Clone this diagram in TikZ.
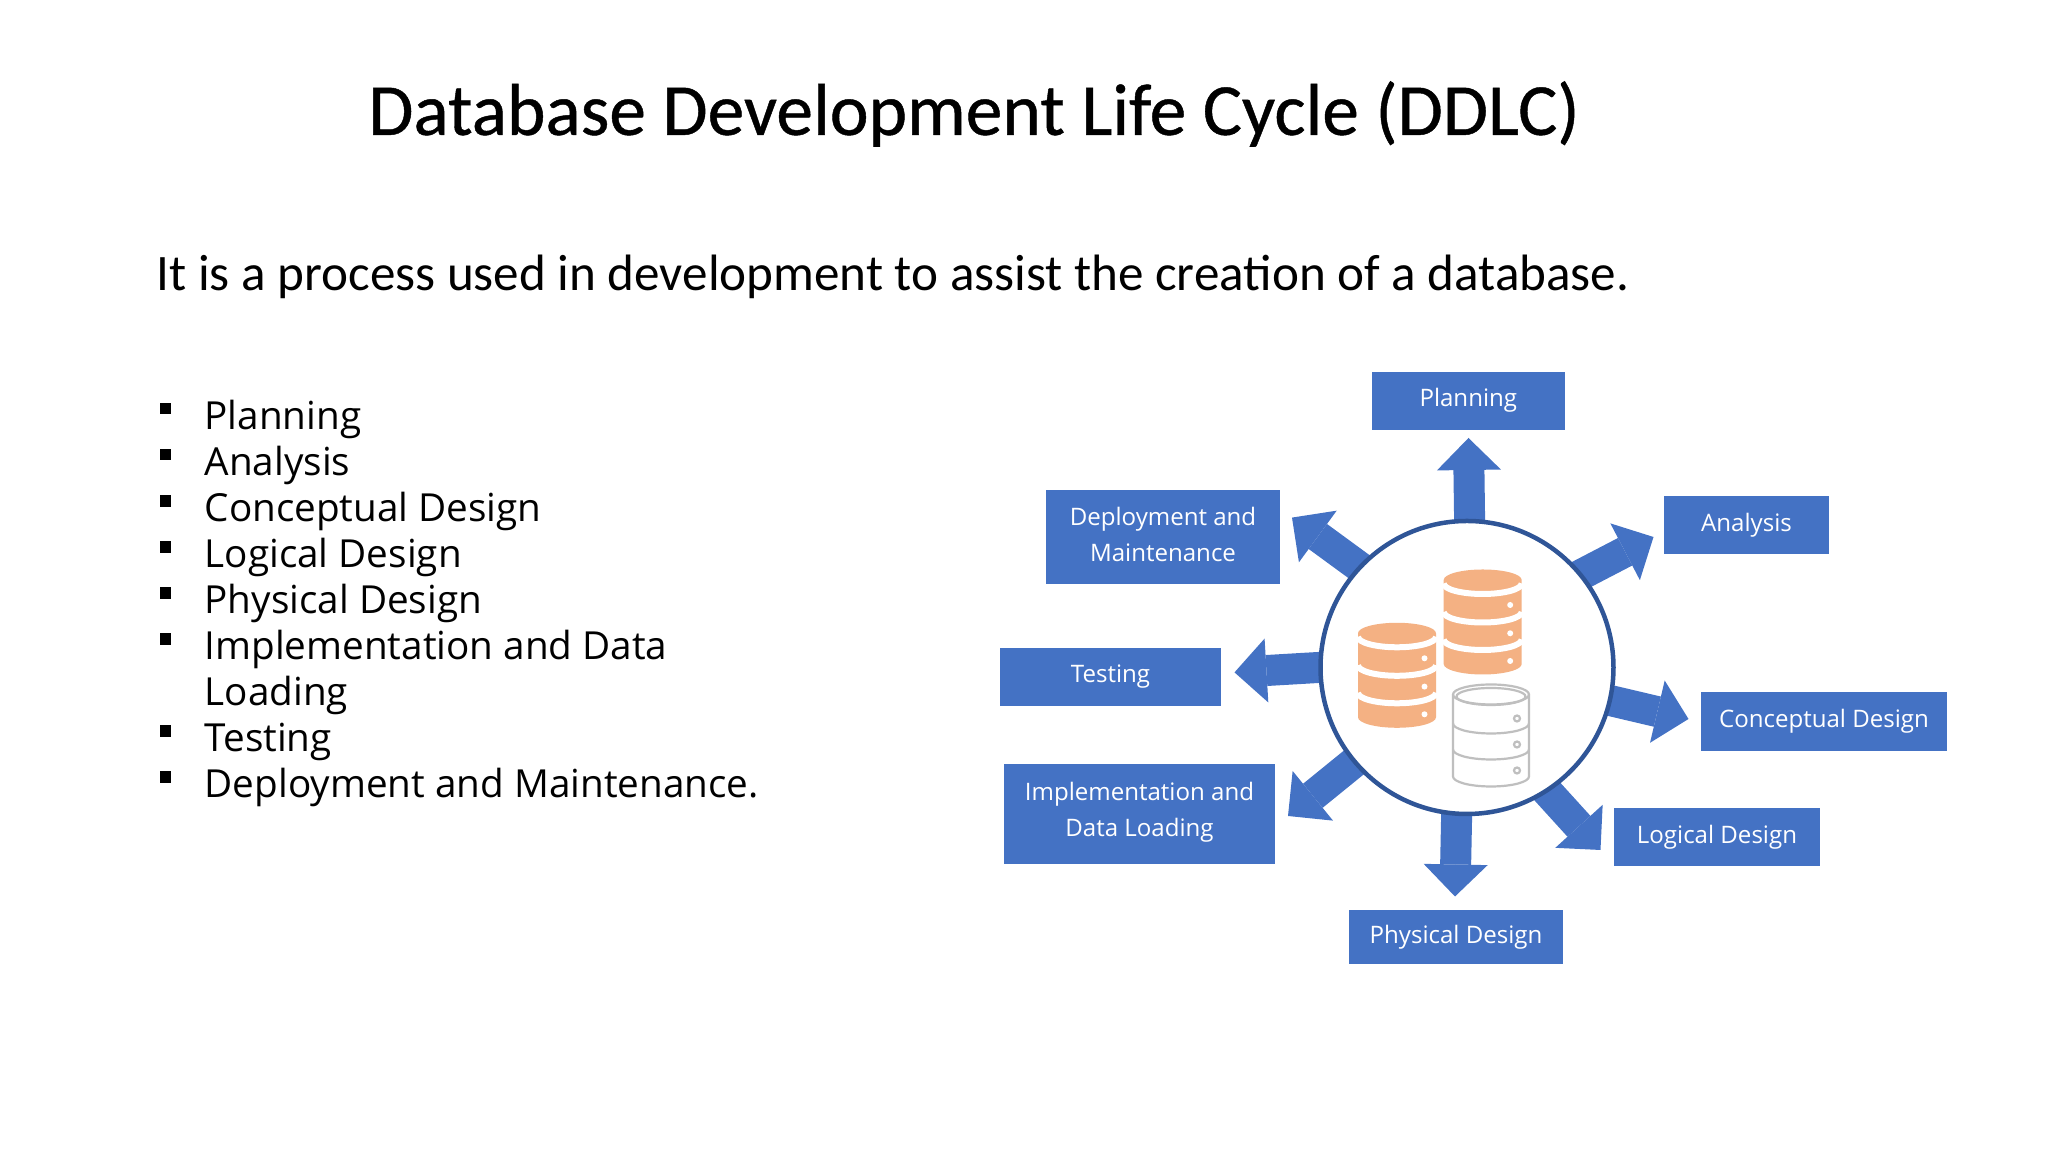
\documentclass[tikz,border=0pt]{standalone}
\usepackage{fontspec}
\usepackage{xcolor}
\usetikzlibrary{arrows.meta,positioning,calc,backgrounds}
\setmainfont{Carlito}
\newfontfamily\listfont{Open Sans}
\newfontfamily\titlefont[FakeBold=0.6]{Carlito}
\definecolor{boxblue}{RGB}{68,114,196}
\definecolor{hubblue}{RGB}{47,85,151}
\definecolor{dborange}{RGB}{244,177,131}
\definecolor{dbgrey}{RGB}{191,191,191}
\tikzset{
  flowbox/.style={fill=boxblue,text=white,align=center,inner sep=0pt,font=\listfont\fontsize{6.85}{10.4}\selectfont},
  flowarrow/.style={boxblue,line width=0.31cm,-{Triangle[length=0.32cm,width=0.64cm,line width=0pt]}},
  listitem/.style={anchor=base west,inner sep=0pt,font=\listfont\fontsize{11}{13}\selectfont},
  listmark/.style={fill=black,minimum size=0.115cm,inner sep=0pt}
}
% filled database stack, (#1) is the middle of its top ellipse
\newcommand{\dbfilled}[1]{
  \begin{scope}[shift={(#1)}]
    \fill[dborange] (-0.39,0) arc (180:0:0.39 and 0.105) -- (0.39,-0.84) arc (0:-180:0.39 and 0.105) -- cycle;
    \foreach \yband in {0.035,0.32,0.595}
      \draw[white,line width=0.06cm] (-0.39,-\yband) arc (180:360:0.39 and 0.105);
    \foreach \ydot in {0.25,0.533,0.81}
      \fill[white] (0.275,-\ydot) circle (0.03);
  \end{scope}
}
% outlined database stack
\newcommand{\dboutline}[1]{
  \begin{scope}[shift={(#1)},dbgrey,line width=0.022cm]
    \draw[fill=white] (-0.38,0) arc (180:0:0.38 and 0.1) -- (0.38,-0.82) arc (0:-180:0.38 and 0.1) -- cycle;
    \draw (-0.38,0) arc (180:360:0.38 and 0.1);
    \draw (0,-0.02) ellipse (0.345 and 0.085);
    \foreach \yband in {0.29,0.55}
      \draw (-0.38,-\yband) arc (180:360:0.38 and 0.1);
    \foreach \ydot in {0.24,0.5,0.76}
      \draw (0.26,-\ydot) circle (0.03);
  \end{scope}
}

\begin{document}
\begin{tikzpicture}
    \useasboundingbox (0,0) rectangle (20.48,11.52);

    % Heading and sentence
    \node[anchor=center,inner sep=0pt,font=\titlefont\fontsize{20.9}{25}\selectfont] (title) at (9.74,10.38) {Database Development Life Cycle (DDLC)};
    \node[anchor=base west,inner sep=0pt,font=\fontsize{14.55}{17}\selectfont] (intro) at (1.56,8.61) {It is a process used in development to assist the creation of a database.};

    % Bullet list
    \foreach \row/\bullet/\entry in {0/1/Planning,1/1/Analysis,2/1/Conceptual Design,3/1/Logical Design,4/1/Physical Design,5/1/Implementation and Data,6/0/Loading,7/1/Testing,8/1/Deployment and Maintenance.} {
        \node[listitem] (item\row) at (2.04,{7.225-0.4605*\row}) {\entry};
        \ifnum\bullet=1
            \node[listmark] (mark\row) at (1.653,{7.433-0.4605*\row}) {};
        \fi
    }

    % Centre disc
    \node[circle,draw=hubblue,fill=white,line width=0.045cm,minimum size=2.93cm,inner sep=0pt] (hub) at (14.67,4.845) {};

    % Boxes around the disc
    \node[flowbox,minimum width=1.934cm,minimum height=0.58cm] (planning) at (14.683,7.513) {Planning};
    \node[flowbox,minimum width=1.65cm,minimum height=0.58cm] (analysis) at (17.465,6.27) {Analysis};
    \node[flowbox,minimum width=2.46cm,minimum height=0.59cm] (conceptual) at (18.24,4.305) {Conceptual Design};
    \node[flowbox,minimum width=2.065cm,minimum height=0.58cm] (logical) at (17.17,3.15) {Logical Design};
    \node[flowbox,minimum width=2.145cm,minimum height=0.54cm] (physical) at (14.56,2.15) {Physical Design};
    \node[flowbox,text depth=3pt,minimum width=2.71cm,minimum height=1cm] (implementation) at (11.395,3.375) {Implementation and\\Data Loading};
    \node[flowbox,minimum width=2.21cm,minimum height=0.58cm] (testing) at (11.105,4.75) {Testing};
    \node[flowbox,text depth=1.5pt,minimum width=2.34cm,minimum height=0.94cm] (deployment) at (11.63,6.15) {Deployment and\\Maintenance};

    % Arrow tips
    \coordinate (tipplanning) at (14.685,7.14);
    \coordinate (tipanalysis) at (16.535,6.15);
    \coordinate (tipconceptual) at (16.885,4.33);
    \coordinate (tiplogical) at (16.005,3.02);
    \coordinate (tipphysical) at (14.55,2.555);
    \coordinate (tipimplementation) at (12.88,3.36);
    \coordinate (tiptesting) at (12.345,4.796);
    \coordinate (tipdeployment) at (12.92,6.344);

    % Block arrows, tails hidden under the disc
    \begin{scope}[on background layer]
        \foreach \ang/\tip in {89.4/tipplanning,39/tipanalysis,-13/tipconceptual,-57/tiplogical,-94.7/tipphysical,220/tipimplementation,180/tiptesting,137/tipdeployment}
            \draw[flowarrow] ($(hub.\ang)!-0.2cm!(\tip)$) -- (\tip);
    \end{scope}

    % Database stacks
    \dbfilled{14.827,5.72}
    \dbfilled{13.97,5.187}
    \dboutline{14.91,4.575}
\end{tikzpicture}
\end{document}
